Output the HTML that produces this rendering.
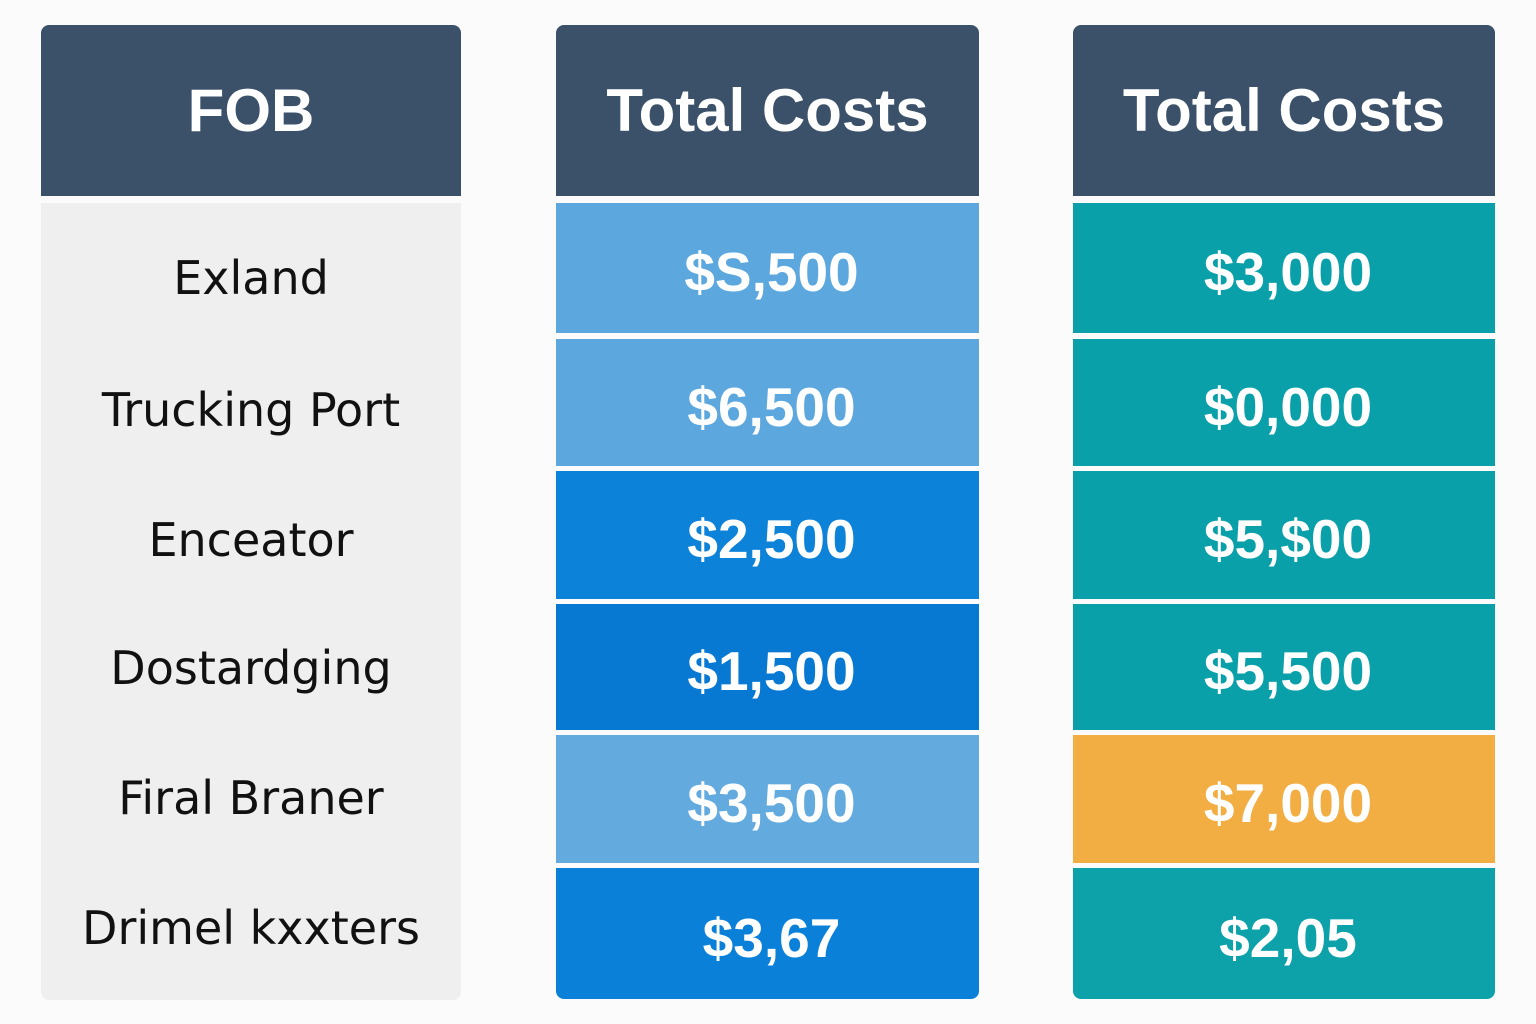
<!DOCTYPE html>
<html><head><meta charset="utf-8"><style>
body{margin:0;width:1536px;height:1024px;background:#fbfbfb;position:relative;font-family:"Liberation Sans",sans-serif;overflow:hidden}
.b{position:absolute;display:flex;align-items:center;justify-content:center;box-sizing:border-box}
.h{background:#3b5169;color:#fff;font-weight:bold;font-size:60px;border-radius:8px 8px 0 0;top:25px;height:171px}
.v{color:#fff;font-weight:bold;font-size:55px;padding-top:8px;padding-left:8px}
.l{color:#111;font-size:46px;font-family:"DejaVu Sans",sans-serif}
</style></head><body>
<div class="b h" style="left:41px;width:420px">FOB</div>
<div class="b h" style="left:556px;width:423px">Total Costs</div>
<div class="b h" style="left:1073px;width:422px">Total Costs</div>
<div class="b" style="left:41px;top:203px;width:420px;height:797px;background:#efefef;border-radius:0 0 8px 8px"></div>
<div class="b l" style="left:41px;width:420px;top:213px;height:130px">Exland</div>
<div class="b l" style="left:41px;width:420px;top:345px;height:130px">Trucking Port</div>
<div class="b l" style="left:41px;width:420px;top:475px;height:130px">Enceator</div>
<div class="b l" style="left:41px;width:420px;top:603px;height:130px">Dostardging</div>
<div class="b l" style="left:41px;width:420px;top:733px;height:130px">Firal Braner</div>
<div class="b l" style="left:41px;width:420px;top:863px;height:130px">Drimel kxxters</div>

<div class="b v" style="left:556px;width:423px;top:203px;height:130px;background:#5ca8de">$S,500</div>
<div class="b v" style="left:556px;width:423px;top:339px;height:127px;background:#5ca8de">$6,500</div>
<div class="b v" style="left:556px;width:423px;top:471px;height:128px;background:#0c82d8">$2,500</div>
<div class="b v" style="left:556px;width:423px;top:604px;height:126px;background:#0879d2">$1,500</div>
<div class="b v" style="left:556px;width:423px;top:735px;height:128px;background:#63abdf">$3,500</div>
<div class="b v" style="left:556px;width:423px;top:868px;height:131px;background:#0b80d8;border-radius:0 0 8px 8px">$3,67</div>

<div class="b v" style="left:1073px;width:422px;top:203px;height:130px;background:#0aa0a9">$3,000</div>
<div class="b v" style="left:1073px;width:422px;top:339px;height:127px;background:#0aa0a9">$0,000</div>
<div class="b v" style="left:1073px;width:422px;top:471px;height:128px;background:#0aa0a9">$5,$00</div>
<div class="b v" style="left:1073px;width:422px;top:604px;height:126px;background:#0aa0a9">$5,500</div>
<div class="b v" style="left:1073px;width:422px;top:735px;height:128px;background:#f2ae43">$7,000</div>
<div class="b v" style="left:1073px;width:422px;top:868px;height:131px;background:#0da2aa;border-radius:0 0 8px 8px">$2,05</div>
</body></html>
